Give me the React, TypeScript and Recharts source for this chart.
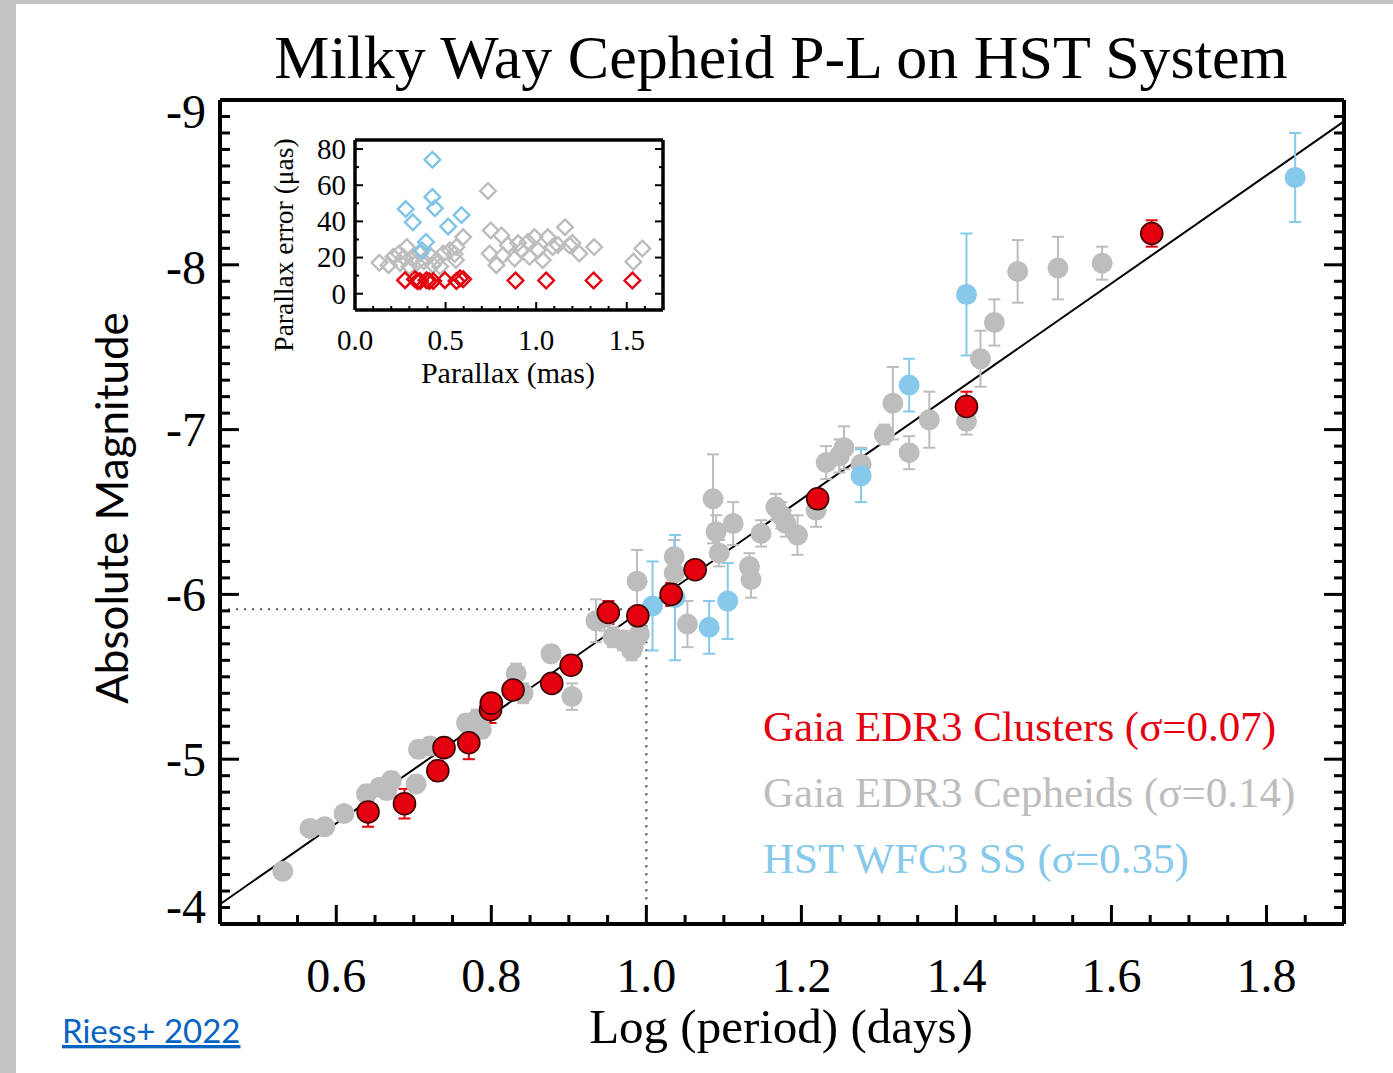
import React from 'react';
import { ScatterChart, Scatter, XAxis, YAxis, ErrorBar, ReferenceLine, Legend } from 'recharts';

// Gaia EDR3 cluster Cepheids (red)
const CLUSTER_LOGP = [0.641, 0.688, 0.731, 0.739, 0.771, 0.799, 0.800, 0.828, 0.878, 0.903, 0.951, 0.989, 1.032, 1.063, 1.221, 1.413, 1.652];
const CLUSTER_MAG = [-4.68, -4.73, -4.93, -5.07, -5.10, -5.30, -5.34, -5.42, -5.46, -5.57, -5.89, -5.87, -6.00, -6.15, -6.58, -7.14, -8.19];
const CLUSTER_ERR = [0.09, 0.09, 0.06, 0.05, 0.10, 0.08, 0.05, 0.05, 0.05, 0.04, 0.07, 0.04, 0.07, 0.05, 0.05, 0.09, 0.08];

// Gaia EDR3 field Cepheids (grey)
const FIELD_LOGP = [0.531, 0.566, 0.585, 0.610, 0.639, 0.656, 0.671, 0.665, 0.703, 0.706, 0.721, 0.768, 0.781, 0.787, 0.832, 0.841, 0.877, 0.904, 0.935, 0.946, 0.957, 0.970, 0.983, 0.991, 0.981, 0.988, 1.036, 1.036, 1.053, 1.086, 1.090, 1.112, 1.094, 1.133, 1.135, 1.148, 1.167, 1.174, 1.180, 1.195, 1.219, 1.232, 1.255, 1.249, 1.277, 1.307, 1.318, 1.339, 1.365, 1.413, 1.431, 1.449, 1.479, 1.531, 1.588];
const FIELD_MAG = [-4.32, -4.58, -4.59, -4.67, -4.79, -4.83, -4.87, -4.81, -4.85, -5.06, -5.08, -5.22, -5.24, -5.18, -5.52, -5.40, -5.64, -5.38, -5.84, -5.86, -5.74, -5.72, -5.68, -5.76, -5.66, -6.08, -6.23, -6.13, -5.82, -6.58, -6.38, -6.43, -6.25, -6.17, -6.09, -6.37, -6.53, -6.48, -6.43, -6.36, -6.51, -6.80, -6.89, -6.84, -6.79, -6.97, -7.16, -6.86, -7.06, -7.05, -7.43, -7.65, -7.96, -7.98, -8.01];
const FIELD_ERR = [0.04, 0.04, 0.04, 0.04, 0.05, 0.05, 0.05, 0.05, 0.05, 0.05, 0.05, 0.05, 0.06, 0.05, 0.06, 0.06, 0.05, 0.08, 0.13, 0.08, 0.06, 0.06, 0.06, 0.06, 0.06, 0.19, 0.10, 0.08, 0.14, 0.27, 0.10, 0.13, 0.08, 0.08, 0.11, 0.08, 0.08, 0.08, 0.08, 0.12, 0.10, 0.10, 0.13, 0.10, 0.10, 0.06, 0.22, 0.10, 0.17, 0.08, 0.17, 0.14, 0.19, 0.19, 0.10];

// HST WFC3 spatial scan Cepheids (blue)
const HST_LOGP = [1.008, 1.037, 1.081, 1.105, 1.277, 1.339, 1.413, 1.837];
const HST_MAG = [-5.93, -5.98, -5.80, -5.96, -6.72, -7.27, -7.82, -8.53];
const HST_ERR = [0.27, 0.38, 0.16, 0.23, 0.16, 0.16, 0.37, 0.27];

// P-L fit and pivot
const FIT_LOGP = [0.45, 1.9];
const FIT_MAG = [-4.12, -8.87];
const PIVOT_LOGP = 1.0;
const PIVOT_MAG = -5.91;

// inset: parallax vs parallax error
const INSET_FIELD_PLX = [0.135, 0.185, 0.212, 0.243, 0.286, 0.322, 0.359, 0.414, 0.451, 0.487, 0.524, 0.560, 0.557, 0.597, 0.734, 0.749, 0.808, 0.743, 0.780, 0.817, 0.844, 0.881, 0.918, 0.954, 0.991, 0.963, 1.036, 1.064, 1.091, 1.159, 1.183, 1.238, 1.320, 1.536, 1.586, 0.25, 0.30, 0.38, 0.43, 0.47, 0.55, 0.27, 0.34, 0.90, 1.01, 1.12, 1.20];
const INSET_FIELD_ERR = [17.1, 15.8, 20.4, 22.2, 25.8, 19.5, 22.2, 21.3, 18.6, 22.2, 24.0, 25.8, 18.6, 31.3, 56.8, 35.0, 32.2, 22.2, 15.8, 21.3, 26.8, 19.5, 24.0, 28.6, 31.3, 20.4, 18.6, 31.3, 25.8, 36.8, 26.8, 22.2, 25.8, 17.7, 25.0, 17, 15, 18, 16, 15, 22, 20, 17, 28, 24, 27, 28];
const INSET_HST_PLX = [0.427, 0.427, 0.441, 0.280, 0.319, 0.588, 0.514, 0.392, 0.370];
const INSET_HST_ERR = [74.1, 53.5, 47.2, 46.8, 39.5, 43.5, 37.2, 28.6, 24.0];
const INSET_CLUSTER_PLX = [0.276, 0.331, 0.345, 0.359, 0.394, 0.410, 0.432, 0.496, 0.560, 0.580, 0.597, 0.886, 1.055, 1.317, 1.531];
const INSET_CLUSTER_ERR = [7.5, 8, 7, 7, 7.5, 7, 7, 7.5, 7, 8.5, 8, 7.3, 7.3, 7.3, 7.3];

// axes
const X_LABELS = [0.6, 0.8, 1.0, 1.2, 1.4, 1.6, 1.8];
const Y_LABELS = [-9, -8, -7, -6, -5, -4];
const INSET_X_LABELS = [0.0, 0.5, 1.0, 1.5];
const INSET_Y_LABELS = [0, 20, 40, 60, 80];

const SERIES_NAMES = {
  cluster: 'Gaia EDR3 Clusters (\u03c3=0.07)',
  field: 'Gaia EDR3 Cepheids (\u03c3=0.14)',
  hst: 'HST WFC3 SS (\u03c3=0.35)',
};
const LEGEND_ORDER = [SERIES_NAMES.cluster, SERIES_NAMES.field, SERIES_NAMES.hst];

const RED = '#e3000f';
const GREY = '#bdbdbd';
const BLUE = '#86c9ea';
const SERIF = "'Liberation Serif', 'DejaVu Serif', serif";

const build = (xs: number[], ys: number[], es: number[]) => xs.map((x, i) => ({ logP: x, mag: ys[i], err: es[i] }));
const buildInset = (xs: number[], ys: number[]) => xs.map((x, i) => ({ plx: x, perr: ys[i] }));

const clusterData = build(CLUSTER_LOGP, CLUSTER_MAG, CLUSTER_ERR);
const fieldData = build(FIELD_LOGP, FIELD_MAG, FIELD_ERR);
const hstData = build(HST_LOGP, HST_MAG, HST_ERR);

const range = (a: number, b: number, step: number) => {
  const out: number[] = [];
  for (let v = a; v <= b + 1e-9; v += step) out.push(Math.round(v * 1000) / 1000);
  return out;
};

type Side = 'bottom' | 'left' | 'top' | 'right';
interface TickOpts {
  side: Side;
  majors: number[];
  major: number;
  minor: number;
  sw: number;
  fontSize?: number;
  gap?: number;
  fmt?: (v: number) => string;
  nudge?: Record<string, number>;
}

function makeTick(o: TickOpts) {
  return (props: any) => {
    const { x, y, payload } = props;
    const v = payload.value;
    const isMajor = o.majors.some((m) => Math.abs(m - v) < 1e-6);
    const len = isMajor ? o.major : o.minor;
    let x2 = x;
    let y2 = y;
    if (o.side === 'bottom') y2 = y - len;
    if (o.side === 'top') y2 = y + len;
    if (o.side === 'left') x2 = x + len;
    if (o.side === 'right') x2 = x - len;
    let label = null;
    if (isMajor && o.fmt && o.fontSize) {
      const nd = (o.nudge && o.nudge[String(v)]) || 0;
      if (o.side === 'bottom') {
        label = (
          <text x={x} y={y + (o.gap || 0)} textAnchor="middle" fontSize={o.fontSize} fontFamily={SERIF} fill="#000">
            {o.fmt(v)}
          </text>
        );
      } else if (o.side === 'left') {
        label = (
          <text x={x - (o.gap || 0)} y={y + o.fontSize * 0.34 + nd} textAnchor="end" fontSize={o.fontSize} fontFamily={SERIF} fill="#000">
            {o.fmt(v)}
          </text>
        );
      }
    }
    return (
      <g>
        <line x1={x} y1={y} x2={x2} y2={y2} stroke="#000" strokeWidth={o.sw} />
        {label}
      </g>
    );
  };
}

const dot = (fill: string, r: number, stroke?: string) => (p: any) => (
  <circle cx={p.cx} cy={p.cy} r={r} fill={fill} stroke={stroke || 'none'} strokeWidth={stroke ? 1.6 : 0} />
);

const diamond = (color: string) => (p: any) => {
  const s = 7.8;
  const { cx, cy } = p;
  return (
    <polygon
      points={`${cx},${cy - s} ${cx + s},${cy} ${cx},${cy + s} ${cx - s},${cy}`}
      fill="none"
      stroke={color}
      strokeWidth={2.4}
    />
  );
};

const renderLegend = (props: any) => {
  const items = [...(props.payload || [])].sort(
    (a: any, b: any) => LEGEND_ORDER.indexOf(a.value) - LEGEND_ORDER.indexOf(b.value)
  );
  return (
    <div>
      {items.map((it: any) => (
        <div key={it.value} style={{ color: it.color, fontFamily: SERIF, fontSize: 43, lineHeight: '66px', whiteSpace: 'nowrap' }}>
          {it.value}
        </div>
      ))}
    </div>
  );
};

const AXIS_LINE = { stroke: '#000', strokeWidth: 4 };
const INSET_LINE = { stroke: '#000', strokeWidth: 3.5 };

export default function App() {
  const xTicks = range(0.45, 1.9, 0.05);
  const yTicks = range(-9, -4, 0.1);
  const ixTicks = range(0, 1.7, 0.1);
  const iyTicks = range(0, 80, 10);
  const fmt1 = (v: number) => v.toFixed(1);
  const fmt0 = (v: number) => String(v);

  return (
    <div style={{ position: 'absolute', left: 0, top: 0, width: 1393, height: 1073, background: '#fff', overflow: 'hidden' }}>
      <div style={{ position: 'absolute', left: 0, top: 0, width: 16, height: 1073, background: '#c3c3c3' }} />
      <div style={{ position: 'absolute', left: 0, top: 0, width: 1393, height: 4, background: '#c3c3c3' }} />

      <div style={{ position: 'absolute', left: 0, top: 0 }}>
        <ScatterChart width={1393} height={1073} margin={{ top: 99, right: 48, bottom: 89, left: 160 }}>
          <XAxis
            xAxisId="b"
            type="number"
            dataKey="logP"
            domain={[0.45, 1.9]}
            allowDataOverflow
            ticks={xTicks}
            interval={0}
            height={60}
            axisLine={AXIS_LINE}
            tickLine={false}
            tickSize={0}
            tickMargin={0}
            tick={makeTick({ side: 'bottom', majors: X_LABELS, major: 19, minor: 9, sw: 3, fontSize: 48, gap: 68, fmt: fmt1 })}
          />
          <XAxis
            xAxisId="t"
            orientation="top"
            type="number"
            domain={[0.45, 1.9]}
            allowDataOverflow
            ticks={xTicks}
            interval={0}
            height={1}
            axisLine={AXIS_LINE}
            tickLine={false}
            tickSize={0}
            tickMargin={0}
            tick={makeTick({ side: 'top', majors: X_LABELS, major: 19, minor: 9, sw: 3 })}
          />
          <YAxis
            yAxisId="l"
            type="number"
            dataKey="mag"
            domain={[-9, -4]}
            reversed
            allowDataOverflow
            ticks={yTicks}
            interval={0}
            width={60}
            axisLine={AXIS_LINE}
            tickLine={false}
            tickSize={0}
            tickMargin={0}
            tick={makeTick({ side: 'left', majors: Y_LABELS, major: 19, minor: 10, sw: 3, fontSize: 48, gap: 14, fmt: fmt0, nudge: { '-9': 12, '-8': 3, '-4': -17 } })}
          />
          <YAxis
            yAxisId="r"
            orientation="right"
            type="number"
            domain={[-9, -4]}
            reversed
            allowDataOverflow
            ticks={yTicks}
            interval={0}
            width={1}
            axisLine={AXIS_LINE}
            tickLine={false}
            tickSize={0}
            tickMargin={0}
            tick={makeTick({ side: 'right', majors: Y_LABELS, major: 20, minor: 10, sw: 3 })}
          />

          <ReferenceLine
            xAxisId="b"
            yAxisId="l"
            segment={[{ x: FIT_LOGP[0], y: FIT_MAG[0] }, { x: FIT_LOGP[1], y: FIT_MAG[1] }]}
            stroke="#000"
            strokeWidth={2}
          />
          <ReferenceLine
            xAxisId="b"
            yAxisId="l"
            segment={[{ x: 0.45, y: PIVOT_MAG }, { x: PIVOT_LOGP, y: PIVOT_MAG }]}
            stroke="#555"
            strokeWidth={2.2}
            strokeDasharray="2 6"
          />
          <ReferenceLine
            xAxisId="b"
            yAxisId="l"
            segment={[{ x: PIVOT_LOGP, y: PIVOT_MAG }, { x: PIVOT_LOGP, y: -4 }]}
            stroke="#555"
            strokeWidth={2.2}
            strokeDasharray="2 6"
          />

          <Scatter xAxisId="b" yAxisId="l" name={SERIES_NAMES.field} data={fieldData} fill={GREY} shape={dot(GREY, 10.5)} isAnimationActive={false}>
            <ErrorBar dataKey="err" direction="y" width={6} stroke={GREY} strokeWidth={2} />
          </Scatter>
          <Scatter xAxisId="b" yAxisId="l" name={SERIES_NAMES.hst} data={hstData} fill={BLUE} shape={dot(BLUE, 10.5)} isAnimationActive={false}>
            <ErrorBar dataKey="err" direction="y" width={6} stroke={BLUE} strokeWidth={2} />
          </Scatter>
          <Scatter xAxisId="b" yAxisId="l" name={SERIES_NAMES.cluster} data={clusterData} fill={RED} shape={dot(RED, 11, '#3a0000')} isAnimationActive={false}>
            <ErrorBar dataKey="err" direction="y" width={6} stroke={RED} strokeWidth={2} />
          </Scatter>

          <Legend
            layout="vertical"
            align="center"
            verticalAlign="middle"
            wrapperStyle={{ left: 763, top: 694, width: 600, height: 200 }}
            content={renderLegend}
          />
        </ScatterChart>
      </div>

      <div style={{ position: 'absolute', left: 260, top: 120 }}>
        <ScatterChart width={420} height={290} margin={{ top: 19, right: 16, bottom: 60, left: 35 }}>
          <XAxis
            xAxisId="b"
            type="number"
            dataKey="plx"
            domain={[0, 1.7]}
            allowDataOverflow
            ticks={ixTicks}
            interval={0}
            height={40}
            axisLine={INSET_LINE}
            tickLine={false}
            tickSize={0}
            tickMargin={0}
            tick={makeTick({ side: 'bottom', majors: INSET_X_LABELS, major: 8, minor: 4, sw: 2, fontSize: 29, gap: 40, fmt: fmt1 })}
          />
          <XAxis
            xAxisId="t"
            orientation="top"
            type="number"
            domain={[0, 1.7]}
            allowDataOverflow
            ticks={ixTicks}
            interval={0}
            height={1}
            axisLine={INSET_LINE}
            tickLine={false}
            tickSize={0}
            tickMargin={0}
            tick={makeTick({ side: 'top', majors: INSET_X_LABELS, major: 8, minor: 4, sw: 2 })}
          />
          <YAxis
            yAxisId="l"
            type="number"
            dataKey="perr"
            domain={[-9, 85]}
            allowDataOverflow
            ticks={iyTicks}
            interval={0}
            width={60}
            axisLine={INSET_LINE}
            tickLine={false}
            tickSize={0}
            tickMargin={0}
            tick={makeTick({ side: 'left', majors: INSET_Y_LABELS, major: 8, minor: 4, sw: 2, fontSize: 29, gap: 9, fmt: fmt0 })}
          />
          <YAxis
            yAxisId="r"
            orientation="right"
            type="number"
            domain={[-9, 85]}
            allowDataOverflow
            ticks={iyTicks}
            interval={0}
            width={1}
            axisLine={INSET_LINE}
            tickLine={false}
            tickSize={0}
            tickMargin={0}
            tick={makeTick({ side: 'right', majors: INSET_Y_LABELS, major: 8, minor: 4, sw: 2 })}
          />
          <Scatter xAxisId="b" yAxisId="l" data={buildInset(INSET_FIELD_PLX, INSET_FIELD_ERR)} shape={diamond(GREY)} isAnimationActive={false} />
          <Scatter xAxisId="b" yAxisId="l" data={buildInset(INSET_HST_PLX, INSET_HST_ERR)} shape={diamond('#7ec4e6')} isAnimationActive={false} />
          <Scatter xAxisId="b" yAxisId="l" data={buildInset(INSET_CLUSTER_PLX, INSET_CLUSTER_ERR)} shape={diamond(RED)} isAnimationActive={false} />
        </ScatterChart>
      </div>

      <svg width={1393} height={1073} style={{ position: 'absolute', left: 0, top: 0, pointerEvents: 'none' }}>
        <text x={781} y={78} textAnchor="middle" fontSize={62} fontFamily={SERIF} fill="#000">
          Milky Way Cepheid P-L on HST System
        </text>
        <text x={781} y={1043} textAnchor="middle" fontSize={49} fontFamily={SERIF} fill="#000">
          Log (period) (days)
        </text>
        <text x={128} y={508} transform="rotate(-90 128 508)" textAnchor="middle" fontSize={44} fontFamily="Lato, 'Open Sans', sans-serif" fill="#000">
          Absolute Magnitude
        </text>
        <text x={508} y={383} textAnchor="middle" fontSize={30} fontFamily={SERIF} fill="#000">
          Parallax (mas)
        </text>
        <text x={293} y={245} transform="rotate(-90 293 245)" textAnchor="middle" fontSize={27.5} fontFamily={SERIF} fill="#000">
          Parallax error ({'\u03bc'}as)
        </text>
        <text x={62} y={1043} fontSize={33} fontFamily="Lato, 'Open Sans', sans-serif" fill="#0563c1" textDecoration="underline">
          Riess+ 2022
        </text>
      </svg>
    </div>
  );
}
